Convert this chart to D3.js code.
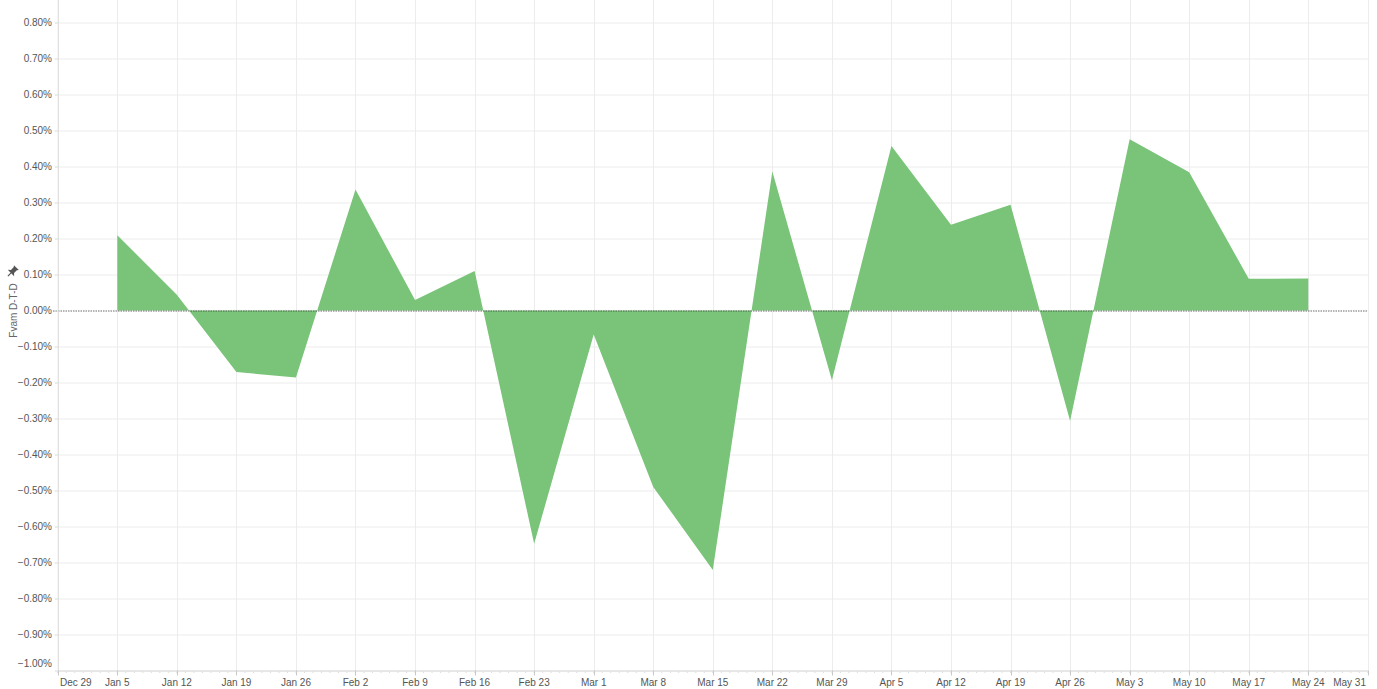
<!DOCTYPE html>
<html>
<head>
<meta charset="utf-8">
<script src="https://cdn.jsdelivr.net/npm/d3@7"></script>
<style>
  html, body { margin: 0; padding: 0; background: #fff; }
  svg { display: block; font-family: "Liberation Sans", Arial, Helvetica, sans-serif; }
</style>
</head>
<body>
<svg id="chart" width="1377" height="689"></svg>
<script>
const dates = ["2020-01-05","2020-01-12","2020-01-19","2020-01-26","2020-02-02","2020-02-09","2020-02-16","2020-02-23","2020-03-01","2020-03-08","2020-03-15","2020-03-22","2020-03-29","2020-04-05","2020-04-12","2020-04-19","2020-04-26","2020-05-03","2020-05-10","2020-05-17","2020-05-24"];
const values = [0.209, 0.044, -0.171, -0.186, 0.336, 0.029, 0.110, -0.648, -0.067, -0.490, -0.721, 0.386, -0.194, 0.457, 0.238, 0.294, -0.307, 0.476, 0.384, 0.088, 0.089];
const yTicks = [0.8, 0.7, 0.6, 0.5, 0.4, 0.3, 0.2, 0.1, 0, -0.1, -0.2, -0.3, -0.4, -0.5, -0.6, -0.7, -0.8, -0.9, -1.0];
const xTickDates = ["2019-12-29","2020-01-05","2020-01-12","2020-01-19","2020-01-26","2020-02-02","2020-02-09","2020-02-16","2020-02-23","2020-03-01","2020-03-08","2020-03-15","2020-03-22","2020-03-29","2020-04-05","2020-04-12","2020-04-19","2020-04-26","2020-05-03","2020-05-10","2020-05-17","2020-05-24","2020-05-31"];
const yTitle = "Fvam D-T-D";

(function () {
const parse = d3.utcParse("%Y-%m-%d");
const data = dates.map((d, i) => ({ date: parse(d), value: values[i] }));
const xTicks = xTickDates.map(parse);

const svg = d3.select("#chart");
const pLeft = 57.75, pRight = 1367.85, pTop = 0, pBottom = 670.5;

const x = d3.scaleUtc().domain([xTicks[0], xTicks[xTicks.length - 1]]).range([pLeft, pRight]);
const y = d3.scaleLinear().domain([-1.0, 0.8625]).range([pBottom, pTop]);

const gridColor = "#ececec";
const labelColor = "#555";
const fs = 10;

// Horizontal gridlines
svg.append("g").selectAll("line").data(yTicks.filter(v => v !== 0 && v !== -1.0)).join("line")
  .attr("x1", pLeft).attr("x2", pRight)
  .attr("y1", d => y(d) + 0.5).attr("y2", d => y(d) + 0.5)
  .attr("stroke", gridColor).attr("stroke-width", 1);

// Vertical gridlines
svg.append("g").selectAll("line").data(xTicks.slice(1)).join("line")
  .attr("x1", d => Math.round(x(d)) + 0.5).attr("x2", d => Math.round(x(d)) + 0.5)
  .attr("y1", pTop).attr("y2", pBottom)
  .attr("stroke", gridColor).attr("stroke-width", 1);

// Area
const area = d3.area()
  .x(d => x(d.date))
  .y0(y(0))
  .y1(d => y(d.value))
  .curve(d3.curveLinear);

svg.append("path")
  .datum(data)
  .attr("d", area)
  .attr("fill", "#79c479")
  .attr("stroke", "none");

// Zero dotted line
svg.append("line")
  .attr("x1", 53).attr("x2", pRight)
  .attr("y1", y(0) + 0.5).attr("y2", y(0) + 0.5)
  .attr("stroke", "#444").attr("stroke-width", 0.8)
  .attr("stroke-dasharray", "1.5,1");

// Y axis line
svg.append("line")
  .attr("x1", pLeft + 0.5).attr("x2", pLeft + 0.5)
  .attr("y1", pTop).attr("y2", pBottom)
  .attr("stroke", "#d8d8d8");

// Y axis ticks and labels
const yAxis = svg.append("g");
yAxis.selectAll("line").data(yTicks).join("line")
  .attr("x1", pLeft - 3).attr("x2", pLeft)
  .attr("y1", d => y(d) + 0.5).attr("y2", d => y(d) + 0.5)
  .attr("stroke", "#d8d8d8");
yAxis.selectAll("text").data(yTicks).join("text")
  .attr("x", 52)
  .attr("y", d => d === -1.0 ? y(d) - 7 : y(d))
  .attr("dy", "0.35em")
  .attr("text-anchor", "end")
  .attr("font-size", fs)
  .attr("fill", labelColor)
  .text(d => d3.format(".2f")(d) + "%");

// X axis line
svg.append("line")
  .attr("x1", pLeft).attr("x2", pRight)
  .attr("y1", pBottom + 0.5).attr("y2", pBottom + 0.5)
  .attr("stroke", "#d0d0d0");

// Minor daily ticks
const days = d3.utcDay.range(xTicks[0], d3.utcDay.offset(xTicks[xTicks.length - 1], 1));
svg.append("g").selectAll("line").data(days).join("line")
  .attr("x1", d => x(d)).attr("x2", d => x(d))
  .attr("y1", pBottom + 1).attr("y2", pBottom + 2.5)
  .attr("stroke", "#dcdcdc").attr("stroke-width", 1);

// Major weekly ticks
svg.append("g").selectAll("line").data(xTicks).join("line")
  .attr("x1", d => Math.round(x(d)) + 0.5).attr("x2", d => Math.round(x(d)) + 0.5)
  .attr("y1", pBottom).attr("y2", pBottom + 5)
  .attr("stroke", "#c8c8c8");

// X labels
const fmt = d3.utcFormat("%b %-d");
svg.append("g").selectAll("text").data(xTicks).join("text")
  .attr("x", (d, i) => i === 0 ? 60 : (i === xTicks.length - 1 ? 1366 : x(d)))
  .attr("y", 686)
  .attr("text-anchor", (d, i) => i === 0 ? "start" : (i === xTicks.length - 1 ? "end" : "middle"))
  .attr("font-size", fs)
  .attr("fill", labelColor)
  .text(d => fmt(d));

// Y title
svg.append("text")
  .attr("transform", `translate(16.5, ${y(0)}) rotate(-90)`)
  .attr("text-anchor", "middle")
  .attr("font-size", fs)
  .attr("fill", "#666")
  .text(yTitle);

// Pin icon
const pin = svg.append("g").attr("transform", "translate(12.5, 271.5) rotate(45)");
pin.append("path")
  .attr("d", "M-3.5,-5.5 L3.5,-5.5 L2.2,-4 L2.2,0 L4.5,2.2 L-4.5,2.2 L-2.2,0 L-2.2,-4 Z")
  .attr("fill", "#555");
pin.append("line")
  .attr("x1", 0).attr("x2", 0).attr("y1", 2).attr("y2", 6.5)
  .attr("stroke", "#555").attr("stroke-width", 1.2);
})();
</script>
</body>
</html>
